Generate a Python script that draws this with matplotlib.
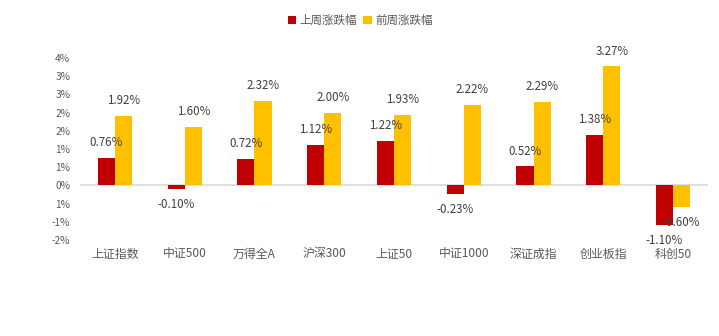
import numpy as np
import matplotlib
matplotlib.use("Agg")
import matplotlib.pyplot as plt

plt.rcParams['font.family'] = ['Noto Sans CJK SC', 'DejaVu Sans']

# 数据（%）
categories = ["上证指数", "中证500", "万得全A", "沪深300", "上证50", "中证1000", "深证成指", "创业板指", "科创50"]
last_week = [0.76, -0.10, 0.72, 1.12, 1.22, -0.23, 0.52, 1.38, -1.10]
prev_week = [1.92, 1.60, 2.32, 2.00, 1.93, 2.22, 2.29, 3.27, -0.60]
series_names = ["上周涨跌幅", "前周涨跌幅"]
y_ticks = [-1.5, -1.0, -0.5, 0.0, 0.5, 1.0, 1.5, 2.0, 2.5, 3.0, 3.5]
y_tick_labels = ["-2%", "-1%", "1%", "0%", "1%", "1%", "2%", "2%", "3%", "3%", "4%"]

RED = "#C00000"
YEL = "#FFC000"
TXT = "#595959"
LBL = "#404040"

fig = plt.figure(figsize=(7.19, 3.36), dpi=100)
W, H = 719, 336
ax = fig.add_axes([80 / W, (H - 240) / H, 628 / W, 182 / H])

x = np.arange(len(categories))
bw = 0.245
b1 = ax.bar(x - bw / 2, last_week, bw, color=RED, label=series_names[0], zorder=2)
b2 = ax.bar(x + bw / 2, prev_week, bw, color=YEL, label=series_names[1], zorder=2)

ax.axhline(0, color="#D9D9D9", lw=1.2, zorder=1)
ax.set_xlim(-0.5, len(categories) - 0.5)
ax.set_ylim(-1.5, 3.5)
ax.set_yticks(y_ticks)
ax.set_yticklabels(y_tick_labels, fontsize=7.3, color=TXT)
ax.set_xticks([])
ax.tick_params(axis='y', length=0, pad=7)
for s in ax.spines.values():
    s.set_visible(False)

# 数据标签
for bars, vals in ((b1, last_week), (b2, prev_week)):
    for rect, v in zip(bars, vals):
        cx = rect.get_x() + rect.get_width() / 2
        off = 11 if v >= 0 else -11
        ax.annotate(f"{v:.2f}%", (cx, v), xytext=(0, off), textcoords="offset points",
                    ha="center", va="center", fontsize=8.3, color=LBL, zorder=3)

# 类别标签（放在绘图区底部）
for i, c in enumerate(categories):
    ax.text(i, -1.5 - 14 / 36.4, c, ha="center", va="center",
            fontsize=8.6, color=TXT)

fig.legend(loc="center", bbox_to_anchor=(360 / W, 1 - 20.5 / H), ncol=2, frameon=False,
           fontsize=8.3, handlelength=0.7, handleheight=0.7, handletextpad=0.3,
           columnspacing=0.6, labelcolor=TXT)

fig.savefig("out.png", dpi=100, facecolor="white")
